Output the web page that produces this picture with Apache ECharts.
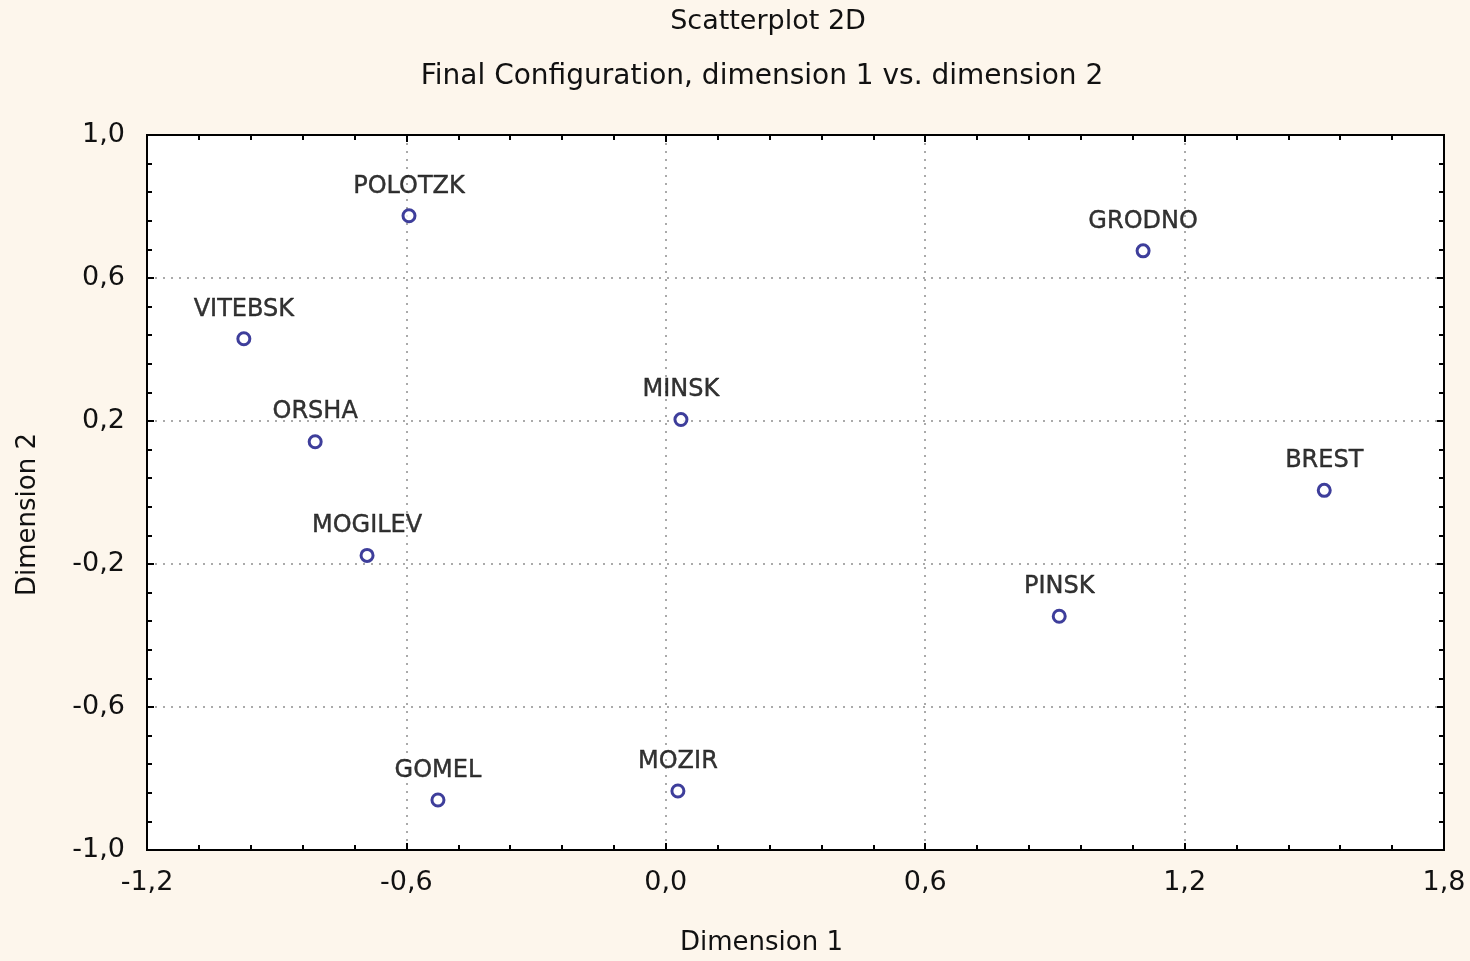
<!DOCTYPE html>
<html><head><meta charset="utf-8">
<script src="https://cdn.jsdelivr.net/npm/echarts@6/dist/echarts.min.js"></script>
<style>html,body{margin:0;padding:0;background:#fdf6ec;}#c{width:1470px;height:961px;}</style>
</head><body><div id="c"></div>
<script>
const cities = ['POLOTZK','VITEBSK','ORSHA','MOGILEV','GOMEL','MOZIR','MINSK','GRODNO','BREST','PINSK'];
const dim1 = [-0.594,-0.976,-0.811,-0.691,-0.527,0.028,0.035,1.104,1.523,0.910];
const dim2 = [0.774,0.430,0.142,-0.176,-0.860,-0.835,0.204,0.676,0.006,-0.346];
const xTicks = [-1.2,-0.6,0.0,0.6,1.2,1.8];
const yTicks = [-1.0,-0.6,-0.2,0.2,0.6,1.0];
const titleText = 'Scatterplot 2D';
const subtitleText = 'Final Configuration, dimension 1 vs. dimension 2';

const fmt = v => v.toFixed(1).replace('.', ',');
const chart = echarts.init(document.getElementById('c'));
const wide = 'DejaVu Sans, Verdana, sans-serif';
const xMin = xTicks[0], xMax = xTicks[xTicks.length-1];
const yMin = yTicks[0], yMax = yTicks[yTicks.length-1];
const tickCommon = {
  axisLine: {show: true, onZero: false, lineStyle: {color: '#000', width: 2}},
  axisTick: {show: true, inside: true, length: 7, lineStyle: {color: '#000', width: 2}},
  minorTick: {show: true, splitNumber: 5, length: 5, lineStyle: {color: '#000', width: 2}}
};
const split = {show: true, showMinLine: false, showMaxLine: false, lineStyle: {color: '#aaa', type: [2, 6], width: 2}};
chart.setOption({
  backgroundColor: '#fdf6ec',
  animation: false,
  graphic: [
    {type: 'text', x: 768, y: 22, style: {text: titleText, textAlign: 'center', textVerticalAlign: 'middle', font: '27px DejaVu Sans, Verdana, sans-serif', fill: '#111'}},
    {type: 'text', x: 762, y: 77, style: {text: subtitleText, textAlign: 'center', textVerticalAlign: 'middle', font: '28px DejaVu Sans, Verdana, sans-serif', fill: '#111'}}
  ],
  grid: {left: 147, right: 26, top: 135, bottom: 110, show: true, backgroundColor: '#ffffff', borderColor: '#000', borderWidth: 2},
  xAxis: [Object.assign({
    type: 'value', min: xMin, max: xMax, interval: 0.6, position: 'bottom',
    name: 'Dimension 1', nameLocation: 'middle', nameGap: 80,
    nameTextStyle: {fontFamily: wide, fontSize: 26, color: '#111', padding: [0, 68, 0, 0]},
    axisLabel: {formatter: fmt, fontFamily: wide, fontSize: 27, color: '#111', margin: 19},
    splitLine: split
  }, tickCommon), Object.assign({
    type: 'value', min: xMin, max: xMax, interval: 0.6, position: 'top',
    axisLabel: {show: false}, splitLine: {show: false}
  }, tickCommon)],
  yAxis: [Object.assign({
    type: 'value', min: yMin, max: yMax, interval: 0.4, position: 'left',
    name: 'Dimension 2', nameLocation: 'middle', nameGap: 106, nameRotate: 90,
    nameTextStyle: {fontFamily: wide, fontSize: 26, color: '#111', padding: [0, 44, 0, 0]},
    axisLabel: {formatter: fmt, fontFamily: wide, fontSize: 27, color: '#111', margin: 22},
    splitLine: split
  }, tickCommon), Object.assign({
    type: 'value', min: yMin, max: yMax, interval: 0.4, position: 'right',
    axisLabel: {show: false}, splitLine: {show: false}
  }, tickCommon)],
  series: [{
    type: 'scatter',
    data: cities.map((c, i) => ({name: c, value: [dim1[i], dim2[i]]})),
    symbol: 'circle', symbolSize: 12,
    itemStyle: {color: '#ffffff', borderColor: '#0e0e82', borderWidth: 3},
    label: {show: true, position: 'top', distance: 10, formatter: p => p.name, fontFamily: wide, fontSize: 24, color: '#000', textBorderColor: '#000', textBorderWidth: 0.4}
  }]
});
</script></body></html>
